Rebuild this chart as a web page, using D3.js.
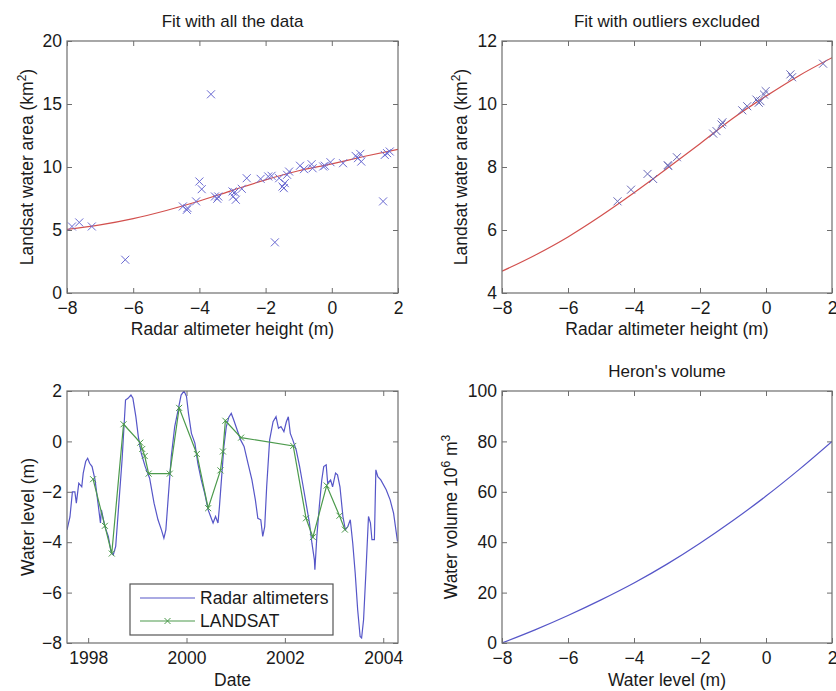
<!DOCTYPE html>
<html>
<head>
<meta charset="utf-8">
<script src="https://cdn.jsdelivr.net/npm/d3@7"></script>
<style>
    body { margin: 0; background: #fff; }
    svg text { font-family: "Liberation Sans", Arial, sans-serif; fill: #1a1a1a; }
</style>
</head>
<body>
<div id="chart"></div>
<script>
// top left: fit with all the data
const allHeight = [-7.85, -7.63, -7.25, -6.24, -4.5, -4.38, -4.36, -4.1, -4.0, -3.93, -3.65, -3.53, -3.46, -3.43,
    -3.0, -2.98, -2.9, -2.93, -2.72, -2.57, -2.15, -1.92, -1.82, -1.72, -1.59, -1.49, -1.42, -1.35, -1.29, -1.45,
    -0.96, -0.84, -0.61, -0.58, -0.26, -0.21, -0.04, 0.34, 0.72, 0.79, 0.86, 0.89, 1.55, 1.6, 1.67, 1.75];
const allArea = [5.28, 5.6, 5.28, 2.64, 6.87, 6.6, 6.74, 7.27, 8.85, 8.24, 15.77, 7.66, 7.48, 7.66,
    8.06, 7.66, 7.4, 8.0, 8.27, 9.11, 9.06, 9.25, 9.3, 4.02, 9.11, 8.45, 8.72, 9.38, 9.64, 8.32,
    10.1, 9.83, 10.22, 9.9, 10.04, 10.1, 10.38, 10.3, 10.88, 10.7, 11.04, 10.43, 7.27, 10.96, 11.1, 11.23];
const fitAllX = [-8, -7, -6, -5, -4, -3, -2, -1, 0, 1, 2];
const fitAllY = [5.05, 5.4, 5.9, 6.55, 7.3, 8.15, 8.98, 9.7, 10.25, 10.85, 11.4];

// top right: fit with outliers excluded
const cleanHeight = [-4.5, -4.09, -3.59, -3.42, -2.98, -2.96, -2.7, -1.6, -1.5, -1.35, -1.32, -0.72, -0.57,
    -0.29, -0.22, -0.17, -0.06, -0.01, 0.74, 0.79, 1.73];
const cleanArea = [6.91, 7.28, 7.78, 7.62, 8.06, 8.03, 8.31, 9.06, 9.14, 9.35, 9.42, 9.8, 9.93,
    10.14, 10.04, 10.09, 10.3, 10.41, 10.94, 10.85, 11.28];
const fitCleanX = [-8, -7, -6, -5, -4, -3, -2, -1, 0, 1, 2];
const fitCleanY = [4.69, 5.2, 5.78, 6.45, 7.18, 7.95, 8.74, 9.55, 10.25, 10.9, 11.47];

// bottom left: water level time series (decimal years)
const radarDate = [1997.57, 1997.63, 1997.68, 1997.73, 1997.76, 1997.81, 1997.87, 1997.90, 1997.95, 1997.99,
    1998.03, 1998.08, 1998.14, 1998.20, 1998.25, 1998.27, 1998.34, 1998.41, 1998.47, 1998.51, 1998.56,
    1998.62, 1998.69, 1998.76, 1998.81, 1998.87, 1998.91, 1998.97, 1999.02, 1999.08, 1999.16, 1999.25,
    1999.34, 1999.42, 1999.49, 1999.54, 1999.58, 1999.62, 1999.69, 1999.76, 1999.83, 1999.89, 1999.95,
    2000.00, 2000.04, 2000.10, 2000.17, 2000.23, 2000.30, 2000.37, 2000.44, 2000.49, 2000.54, 2000.59,
    2000.64, 2000.67, 2000.72, 2000.76, 2000.81, 2000.86, 2000.91, 2000.96, 2001.03, 2001.10, 2001.17,
    2001.25, 2001.33, 2001.40, 2001.45, 2001.51, 2001.55, 2001.59, 2001.63, 2001.69, 2001.76, 2001.82,
    2001.87, 2001.92, 2001.98, 2002.03, 2002.07, 2002.11, 2002.16, 2002.23, 2002.30, 2002.36, 2002.43,
    2002.50, 2002.55, 2002.60, 2002.61, 2002.65, 2002.70, 2002.75, 2002.79, 2002.84, 2002.87, 2002.93,
    2002.97, 2003.03, 2003.07, 2003.12, 2003.18, 2003.23, 2003.28, 2003.33, 2003.38, 2003.43, 2003.48,
    2003.53, 2003.56, 2003.60, 2003.65, 2003.70, 2003.74, 2003.77, 2003.82, 2003.85, 2003.89, 2003.95,
    2004.06, 2004.14, 2004.21, 2004.29];
const radarLevel = [-3.51, -3.0, -2.0, -2.0, -2.45, -1.66, -1.8, -1.26, -0.8, -0.67,
    -0.87, -1.0, -1.53, -2.45, -3.24, -2.72, -3.38, -3.77, -4.43, -4.5, -4.17,
    -2.58, -0.73, 1.64, 1.71, 1.84, 1.71, 0.98, 0.19, -0.47, -1.0, -1.46,
    -2.45, -3.11, -3.51, -3.84, -3.51, -2.45, -0.6, 0.59, 1.25, 1.84, 2.0,
    1.78, 1.11, 0.32, -0.07, -0.87, -1.53, -2.06, -2.72, -2.98, -3.24, -2.98,
    -3.24, -2.58, -1.26, -0.2, 0.59, 0.96, 1.11, 0.85, 0.45, 0.06, -0.2,
    -0.87, -1.53, -2.32, -3.05, -3.11, -3.77, -3.38, -1.79, 0.06, 0.78, 0.98,
    0.52, 0.59, 0.39, 0.78, 0.98, 0.32, 0.06, -0.34, -1.0, -1.66, -2.45,
    -3.24, -4.04, -4.7, -5.09, -3.77, -2.58, -1.53, -1.0, -0.93, -1.66, -1.53,
    -1.8, -1.26, -1.33, -1.8, -2.98, -3.51, -3.38, -3.11, -4.04, -5.23, -6.68,
    -7.74, -7.8, -7.08, -5.09, -2.98, -3.24, -3.9, -3.9, -1.13, -1.4, -1.53,
    -1.92, -2.32, -2.85, -3.97];
const landsatDate = [1998.10, 1998.34, 1998.48, 1998.72, 1999.06, 1999.10, 1999.15, 1999.23, 1999.66, 1999.85,
    2000.21, 2000.44, 2000.69, 2000.74, 2000.79, 2001.11, 2002.17, 2002.43, 2002.57, 2002.85, 2003.11, 2003.22];
const landsatLevel = [-1.5, -3.35, -4.45, 0.68, -0.05, -0.3, -0.58, -1.28, -1.28, 1.33,
    -0.5, -2.65, -1.15, -0.4, 0.82, 0.15, -0.18, -3.05, -3.8, -1.75, -2.95, -3.5];
const legendLabels = ['Radar altimeters', 'LANDSAT'];

// bottom right: Heron's volume
const volLevel = [-8, -7, -6, -5, -4, -3, -2, -1, 0, 1, 2];
const volume = [0, 5.2, 10.9, 17.1, 23.8, 31.3, 39.6, 48.6, 58.3, 68.8, 80];

const heightTicks = [-8, -6, -4, -2, 0, 2];
const dateTicks = [1998, 2000, 2002, 2004];

const blue = '#5656c8';
const markBlue = '#6a6ad2';
const red = '#d2504e';
const green = '#4c9a4c';
const frame = '#6e6e6e';

const width = 836;
const height = 691;

const svg = d3.select('#chart')
    .append('svg')
    .attr('width', width)
    .attr('height', height);

const makePanel = (box, xDomain, yDomain, xTicks, yTicks) => {
    const x = d3.scaleLinear().domain(xDomain).range([box.left, box.right]);
    const y = d3.scaleLinear().domain(yDomain).range([box.bottom, box.top]);
    const g = svg.append('g');

    const clipId = 'clip' + Math.round(box.left) + Math.round(box.top);
    svg.append('clipPath').attr('id', clipId)
        .append('rect')
        .attr('x', box.left).attr('y', box.top)
        .attr('width', box.right - box.left).attr('height', box.bottom - box.top);

    // inward ticks on all four sides, like the matlab box
    g.append('g').attr('transform', `translate(0,${box.bottom})`)
        .call(d3.axisBottom(x).tickValues(xTicks).tickSizeInner(-5).tickSizeOuter(0).tickPadding(9).tickFormat(d3.format('d')));
    g.append('g').attr('transform', `translate(0,${box.top})`)
        .call(d3.axisTop(x).tickValues(xTicks).tickSizeInner(-5).tickSizeOuter(0).tickFormat(''));
    const leftAxis = g.append('g').attr('transform', `translate(${box.left},0)`)
        .call(d3.axisLeft(y).tickValues(yTicks).tickSizeInner(-5).tickSizeOuter(0).tickPadding(9).tickFormat(d3.format('d')));
    g.append('g').attr('transform', `translate(${box.right},0)`)
        .call(d3.axisRight(y).tickValues(yTicks).tickSizeInner(-5).tickSizeOuter(0).tickFormat(''));

    g.selectAll('.domain').remove();
    g.selectAll('.tick line').attr('stroke', frame);
    g.selectAll('.tick text').attr('font-size', 17.5).attr('fill', '#1a1a1a')
        .attr('font-family', '"Liberation Sans", Arial, sans-serif');
    leftAxis.selectAll('.tick text').attr('dx', '4');

    const plot = svg.append('g').attr('clip-path', `url(#${clipId})`);

    svg.append('rect')
        .attr('x', box.left).attr('y', box.top)
        .attr('width', box.right - box.left).attr('height', box.bottom - box.top)
        .attr('fill', 'none').attr('stroke', frame).attr('stroke-width', 1.2);

    return {plot, x, y, box};
};

const drawLine = (p, xs, ys, color, curve) => {
    const line = d3.line()
        .x((d, i) => p.x(xs[i]))
        .y((d, i) => p.y(ys[i]))
        .curve(curve || d3.curveLinear);
    p.plot.append('path')
        .attr('d', line(xs))
        .attr('fill', 'none')
        .attr('stroke', color)
        .attr('stroke-width', 1.2);
};

const drawCrosses = (p, xs, ys, color, r, sw) => {
    const grp = p.plot.append('g');
    xs.forEach((v, i) => {
        const cx = p.x(v), cy = p.y(ys[i]);
        grp.append('path')
            .attr('d', `M${cx - r},${cy - r}L${cx + r},${cy + r}M${cx - r},${cy + r}L${cx + r},${cy - r}`)
            .attr('stroke', color)
            .attr('stroke-width', sw)
            .attr('fill', 'none');
    });
};

const title = (p, text, yPos) => {
    svg.append('text')
        .attr('x', (p.box.left + p.box.right) / 2)
        .attr('y', yPos)
        .attr('text-anchor', 'middle')
        .attr('font-size', 17)
        .text(text);
};

const xLabel = (p, text, yPos) => {
    svg.append('text')
        .attr('x', (p.box.left + p.box.right) / 2)
        .attr('y', yPos)
        .attr('text-anchor', 'middle')
        .attr('font-size', 17.5)
        .text(text);
};

const yLabel = (p, parts, xPos) => {
    const t = svg.append('text')
        .attr('transform', `translate(${xPos},${(p.box.top + p.box.bottom) / 2}) rotate(-90)`)
        .attr('text-anchor', 'middle')
        .attr('font-size', 17.5);
    parts.forEach(part => {
        const s = t.append('tspan').text(part.text);
        if (part.sup) s.attr('baseline-shift', 'super').attr('font-size', 12);
    });
};

const colL = {left: 67, right: 398};
const colR = {left: 502, right: 832};
const rowT = {top: 41, bottom: 293};
const rowB = {top: 391, bottom: 643};

// panel 1
const p1 = makePanel({...colL, ...rowT}, [-8, 2], [0, 20], heightTicks, [0, 5, 10, 15, 20]);
drawLine(p1, fitAllX, fitAllY, red, d3.curveMonotoneX);
drawCrosses(p1, allHeight, allArea, markBlue, 4, 1);
title(p1, 'Fit with all the data', 27);
xLabel(p1, 'Radar altimeter height (m)', 335);
yLabel(p1, [{text: 'Landsat water area (km'}, {text: '2', sup: true}, {text: ')'}], 33);

// panel 2
const p2 = makePanel({...colR, ...rowT}, [-8, 2], [4, 12], heightTicks, [4, 6, 8, 10, 12]);
drawLine(p2, fitCleanX, fitCleanY, red, d3.curveMonotoneX);
drawCrosses(p2, cleanHeight, cleanArea, '#6a6ab8', 4, 1);
title(p2, 'Fit with outliers excluded', 27);
xLabel(p2, 'Radar altimeter height (m)', 335);
yLabel(p2, [{text: 'Landsat water area (km'}, {text: '2', sup: true}, {text: ')'}], 467);

// panel 3
const p3 = makePanel({...colL, ...rowB}, [1997.57, 2004.3], [-8, 2], dateTicks, [-8, -6, -4, -2, 0, 2]);
drawLine(p3, radarDate, radarLevel, blue);
drawLine(p3, landsatDate, landsatLevel, green);
drawCrosses(p3, landsatDate, landsatLevel, green, 3, 1);
xLabel(p3, 'Date', 686);
yLabel(p3, [{text: 'Water level (m)'}], 34);

// legend
const lg = svg.append('g');
lg.append('rect')
    .attr('x', 130).attr('y', 584).attr('width', 203).attr('height', 51)
    .attr('fill', '#fff').attr('stroke', '#555').attr('stroke-width', 1.2);
legendLabels.forEach((name, i) => {
    const ly = 598 + i * 23;
    const col = i === 0 ? blue : green;
    lg.append('line').attr('x1', 140).attr('x2', 195).attr('y1', ly).attr('y2', ly)
        .attr('stroke', col).attr('stroke-width', 1.2);
    if (i === 1) {
        lg.append('path')
            .attr('d', `M${167.5 - 3},${ly - 3}L${167.5 + 3},${ly + 3}M${167.5 - 3},${ly + 3}L${167.5 + 3},${ly - 3}`)
            .attr('stroke', col).attr('stroke-width', 1);
    }
    lg.append('text').attr('x', 200).attr('y', ly).attr('dy', '0.35em')
        .attr('font-size', 17.5).text(name);
});

// panel 4
const p4 = makePanel({...colR, ...rowB}, [-8, 2], [0, 100], heightTicks, [0, 20, 40, 60, 80, 100]);
drawLine(p4, volLevel, volume, blue, d3.curveMonotoneX);
title(p4, "Heron's volume", 377);
xLabel(p4, 'Water level (m)', 686);
yLabel(p4, [{text: 'Water volume 10'}, {text: '6', sup: true}, {text: ' m'}, {text: '3', sup: true}], 457);
</script>
</body>
</html>
